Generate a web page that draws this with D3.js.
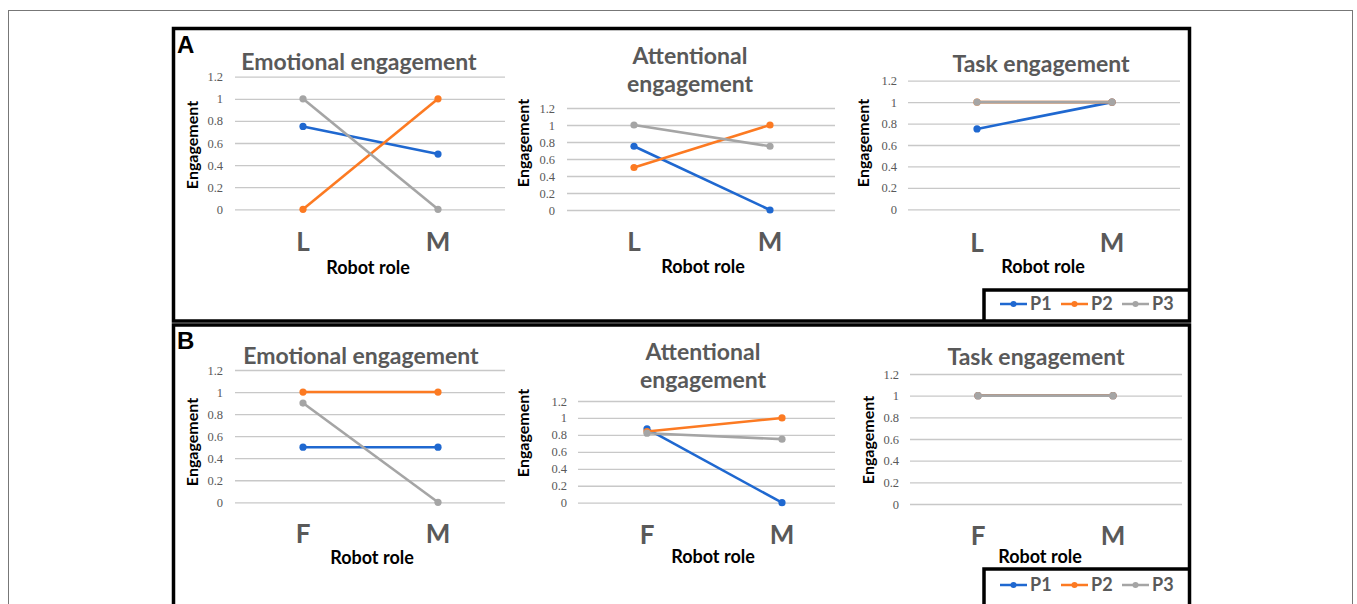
<!DOCTYPE html>
<html>
<head>
<meta charset="utf-8">
<script src="https://cdn.jsdelivr.net/npm/d3@7"></script>
<style>
  body { margin: 0; background: #fff; }
  svg { display: block; }
</style>
</head>
<body>
<div id="main"></div>
<script>
const series = ['P1', 'P2', 'P3'];
const rolesA = ['L', 'M'];
const rolesB = ['F', 'M'];
const yTicks = [0, 0.2, 0.4, 0.6, 0.8, 1, 1.2];

// values per series (P1, P2, P3), one value per robot role
const emotionalA = [[0.75, 0.5], [0, 1], [1, 0]];
const attentionalA = [[0.75, 0], [0.5, 1], [1, 0.75]];
const taskA = [[0.75, 1], [1, 1], [1, 1]];
const emotionalB = [[0.5, 0.5], [1, 1], [0.9, 0]];
const attentionalB = [[0.87, 0], [0.84, 1], [0.82, 0.75]];
const taskB = [[1, 1], [1, 1], [1, 1]];

const titleEmotional = ['Emotional engagement'];
const titleAttentional = ['Attentional', 'engagement'];
const titleTask = ['Task engagement'];

const colors = ['#1f68d0', '#fc7a22', '#a5a5a5'];
const width = 1357;
const height = 604;

const charts = [
  { title: titleEmotional, roles: rolesA, values: emotionalA,
    grid: [235, 505], yRange: [209.3, 76.7], xRange: [303, 438], pad: 12,
    titleX: 359, titleY: 70, yTitle: [192, 145], catY: 251, roleX: 368, roleY: 274 },
  { title: titleAttentional, roles: rolesA, values: attentionalA,
    grid: [567, 835], yRange: [210, 108], xRange: [634, 770], pad: 12,
    titleX: 690, titleY: 64, yTitle: [523, 143], catY: 251, roleX: 703, roleY: 273 },
  { title: titleTask, roles: rolesA, values: taskA,
    grid: [908, 1180], yRange: [209.3, 80.7], xRange: [977, 1112], pad: 11,
    titleX: 1041, titleY: 72, yTitle: [863, 143], catY: 252, roleX: 1043, roleY: 273 },
  { title: titleEmotional, roles: rolesB, values: emotionalB,
    grid: [235, 505], yRange: [502.3, 370], xRange: [303, 438], pad: 12,
    titleX: 361, titleY: 364, yTitle: [192, 442], catY: 543, roleX: 372, roleY: 564 },
  { title: titleAttentional, roles: rolesB, values: attentionalB,
    grid: [578, 835], yRange: [502.7, 401], xRange: [647, 782], pad: 11,
    titleX: 703, titleY: 360, yTitle: [523, 433], catY: 544, roleX: 713, roleY: 563 },
  { title: titleTask, roles: rolesB, values: taskB,
    grid: [910, 1182], yRange: [504, 374], xRange: [978, 1113], pad: 11,
    titleX: 1036, titleY: 365, yTitle: [868, 440], catY: 545, roleX: 1040, roleY: 563 }
];

const svg = d3.select('#main').append('svg')
  .attr('width', width)
  .attr('height', height);

function drawFrames() {
  svg.append('rect')
    .attr('x', 8.5).attr('y', 10.5)
    .attr('width', 1344).attr('height', 700)
    .attr('fill', 'none')
    .attr('stroke', '#777')
    .attr('stroke-width', 1);
  const panels = [
    { label: 'A', y: 28.5, h: 292.5, legendTop: 290, legendY: 304 },
    { label: 'B', y: 325, h: 320, legendTop: 569, legendY: 585 }
  ];
  panels.forEach(p => {
    svg.append('rect')
      .attr('x', 173.5).attr('y', p.y)
      .attr('width', 1016).attr('height', p.h)
      .attr('fill', 'none')
      .attr('stroke', '#000')
      .attr('stroke-width', 3.5);
    svg.append('text')
      .attr('x', 177).attr('y', p.y + 24)
      .attr('font-family', 'Liberation Sans, Arial, sans-serif')
      .attr('font-weight', 'bold')
      .attr('font-size', '24px')
      .attr('fill', '#000')
      .text(p.label);
    drawLegend(p.legendTop, p.legendY, p.y + p.h);
  });
}

function drawLegend(top, cy, bottom) {
  svg.append('path')
    .attr('d', `M984,${bottom}V${top}H1189.5`)
    .attr('fill', 'none')
    .attr('stroke', '#000')
    .attr('stroke-width', 3.5);
  const item = svg.append('g')
    .selectAll('g')
    .data(series)
    .join('g')
      .attr('transform', (d, i) => `translate(${1000 + i * 61}, ${cy})`);
  item.append('line')
    .attr('x1', 0).attr('x2', 27)
    .attr('stroke', (d, i) => colors[i])
    .attr('stroke-width', 2.5);
  item.append('circle')
    .attr('cx', 13.5).attr('r', 3)
    .attr('fill', (d, i) => colors[i]);
  item.append('text')
    .attr('x', 30).attr('dy', '0.36em')
    .attr('font-family', 'Lato, sans-serif')
    .attr('font-weight', 'bold')
    .attr('font-size', '18px')
    .attr('fill', '#595959')
    .text(d => d);
}

function drawChart(c) {
  const g = svg.append('g');
  const y = d3.scaleLinear().domain([0, 1.2]).range(c.yRange);
  const x = d3.scalePoint().domain(c.roles).range(c.xRange);

  const yAxis = d3.axisLeft(y)
    .tickValues(yTicks)
    .tickFormat(d => d)
    .tickSize(-(c.grid[1] - c.grid[0]))
    .tickPadding(c.pad);
  g.append('g')
    .attr('transform', `translate(${c.grid[0]}, 0)`)
    .call(yAxis)
    .call(a => a.select('.domain').remove())
    .call(a => a.selectAll('.tick line')
      .attr('stroke', '#c8c8c8')
      .attr('stroke-width', 1.3))
    .call(a => a.selectAll('.tick text')
      .attr('font-family', 'Liberation Serif, serif')
      .attr('font-size', '12.5px')
      .attr('fill', '#595959'));

  // titles
  g.append('text')
    .attr('x', c.titleX).attr('y', c.titleY)
    .attr('text-anchor', 'middle')
    .attr('font-family', 'Lato, sans-serif')
    .attr('font-weight', 'bold')
    .attr('font-size', '23px')
    .attr('fill', '#595959')
    .selectAll('tspan')
    .data(c.title)
    .join('tspan')
      .attr('x', c.titleX)
      .attr('dy', (d, i) => i === 0 ? 0 : 28)
      .text(d => d);
  g.append('text')
    .attr('transform', `translate(${c.yTitle[0]}, ${c.yTitle[1]}) rotate(-90)`)
    .attr('text-anchor', 'middle')
    .attr('dy', '0.35em')
    .attr('font-family', 'Lato, sans-serif')
    .attr('font-weight', 'bold')
    .attr('font-size', '16px')
    .attr('fill', '#000')
    .text('Engagement');
  g.append('g')
    .selectAll('text')
    .data(c.roles)
    .join('text')
      .attr('x', d => x(d))
      .attr('y', c.catY)
      .attr('text-anchor', 'middle')
      .attr('font-family', 'Lato, sans-serif')
      .attr('font-weight', 'bold')
      .attr('font-size', '26px')
      .attr('fill', '#595959')
      .text(d => d);
  g.append('text')
    .attr('x', c.roleX).attr('y', c.roleY)
    .attr('text-anchor', 'middle')
    .attr('font-family', 'Lato, sans-serif')
    .attr('font-weight', 'bold')
    .attr('font-size', '18px')
    .attr('fill', '#000')
    .text('Robot role');

  // lines and points
  const line = d3.line()
    .x((d, i) => x(c.roles[i]))
    .y(d => y(d));
  const s = g.append('g')
    .selectAll('g')
    .data(c.values)
    .join('g');
  s.append('path')
    .attr('d', d => line(d))
    .attr('fill', 'none')
    .attr('stroke', (d, i) => colors[i])
    .attr('stroke-width', 2.6);
  s.selectAll('circle')
    .data((d, i) => d.map((v, j) => ({ v: v, role: c.roles[j], k: i })))
    .join('circle')
      .attr('cx', d => x(d.role))
      .attr('cy', d => y(d.v))
      .attr('r', 3.6)
      .attr('fill', d => colors[d.k]);
}

drawFrames();
charts.forEach(drawChart);
</script>
</body>
</html>
